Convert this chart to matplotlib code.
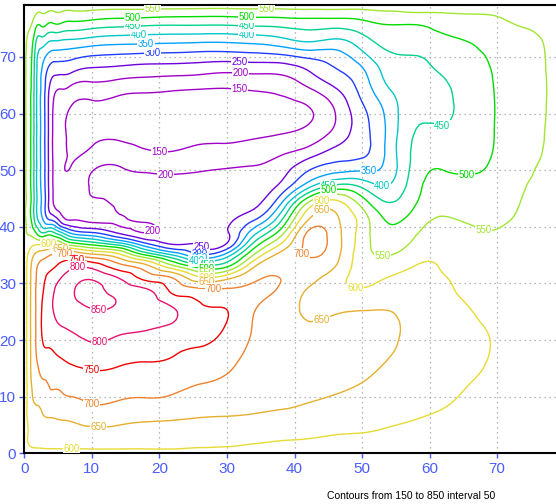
import numpy as np
import matplotlib
matplotlib.use("Agg")
import matplotlib.pyplot as plt
import matplotlib.tri as mtri

# ---- grid node coordinates ----
x_nodes = [0, 0.5, 1, 1.7, 2.5, 3.4, 4.5, 5.7, 7, 10, 14, 18, 22, 26, 30, 34,
           38, 42, 46, 50, 54, 58, 62, 66, 70, 74, 77, 79]
y_nodes = [0, 1, 3, 6, 10, 14, 18, 22, 26, 29, 31, 33, 35, 37, 39, 41, 44,
           47, 50, 53, 56, 60, 64, 67, 70, 73, 75.5, 77.5, 79.2]

# ---- field values, one column per x node (listed bottom to top) ----
z_x00 = [575, 575, 575, 575, 575, 575, 575, 575, 575, 575, 575, 575, 575, 575, 575,
         575, 575, 575, 575, 575, 575, 575, 575, 575, 575, 575, 575, 575, 575]
z_x00_5 = [575, 590, 600, 603, 607, 610, 612, 612, 612, 612, 612, 610, 600, 578, 545,
           532, 530, 530, 530, 530, 530, 530, 531, 532, 534, 545, 556, 567, 575]
z_x01 = [575, 598, 612, 620, 640, 652, 655, 656, 656, 655, 654, 650, 628, 584, 535,
         505, 497, 496, 496, 496, 496, 497, 499, 503, 510, 530, 550, 563, 575]
z_x01_7 = [575, 601, 615, 630, 660, 680, 698, 700, 700, 700, 697, 690, 660, 592, 500,
           430, 416, 415, 415, 415, 415, 415, 416, 418, 425, 457, 508, 550, 575]
z_x02_5 = [575, 602, 618, 638, 665, 705, 735, 748, 745, 738, 730, 720, 675, 590, 450,
           375, 350, 346, 344, 343, 343, 343, 345, 350, 372, 435, 502, 545, 575]
z_x03_4 = [575, 604, 620, 646, 685, 712, 745, 770, 778, 763, 755, 735, 690, 598, 460,
           320, 268, 268, 267, 266, 266, 266, 270, 290, 340, 415, 492, 541, 575]
z_x04_5 = [575, 604, 622, 648, 688, 721, 752, 785, 808, 800, 776, 748, 710, 600, 445,
           295, 193, 187, 185, 183, 182, 184, 205, 255, 320, 405, 490, 540, 575]
z_x05_7 = [575, 605, 625, 652, 695, 728, 762, 797, 826, 822, 805, 768, 708, 560, 390,
           225, 175, 165, 152, 155, 154, 156, 195, 253, 318, 400, 483, 537, 575]
z_x07 = [575, 605, 628, 655, 700, 735, 770, 805, 838, 842, 825, 790, 703, 520, 333,
         205, 180, 167, 153, 146, 143, 144, 180, 245, 312, 397, 477, 533, 575]
z_x10 = [575, 606, 630, 669, 710, 743, 785, 821, 853, 862, 843, 786, 665, 480, 300,
         193, 187, 205, 197, 160, 143, 138, 171, 228, 295, 385, 467, 530, 575]
z_x14 = [575, 606, 630, 665, 705, 738, 773, 812, 845, 832, 798, 722, 617, 420, 240,
         195, 207, 212, 205, 172, 145, 132, 162, 220, 288, 375, 457, 522, 575]
z_x18 = [575, 606, 632, 655, 702, 733, 766, 803, 826, 803, 733, 668, 500, 308, 198,
         205, 215, 213, 195, 157, 138, 128, 155, 212, 282, 372, 450, 520, 575]
z_x22 = [575, 606, 628, 652, 696, 728, 756, 788, 797, 736, 698, 567, 400, 245, 236,
         230, 225, 218, 190, 153, 137, 128, 150, 208, 280, 368, 447, 515, 575]
z_x26 = [575, 600, 625, 647, 683, 712, 742, 772, 755, 706, 608, 478, 310, 245, 240,
         235, 228, 220, 197, 163, 142, 130, 146, 203, 275, 365, 447, 513, 575]
z_x30 = [575, 597, 622, 645, 678, 700, 726, 744, 746, 702, 633, 494, 375, 253, 245,
         240, 232, 222, 203, 167, 142, 128, 145, 195, 273, 365, 447, 513, 575]
z_x34 = [575, 590, 617, 644, 662, 675, 686, 697, 705, 712, 690, 645, 555, 462, 380,
         305, 241, 224, 206, 177, 146, 132, 150, 200, 278, 372, 452, 517, 575]
z_x38 = [575, 585, 610, 640, 658, 668, 672, 675, 680, 693, 699, 690, 668, 600, 525,
         450, 352, 267, 228, 195, 154, 135, 158, 203, 285, 388, 457, 518, 575]
z_x42 = [575, 583, 605, 632, 655, 664, 666, 658, 638, 648, 668, 685, 704, 713, 705,
         655, 565, 390, 297, 225, 172, 143, 188, 240, 308, 410, 465, 522, 575]
z_x46 = [575, 583, 598, 622, 648, 665, 670, 660, 638, 614, 622, 651, 668, 675, 672,
         662, 624, 475, 334, 270, 220, 199, 240, 287, 325, 395, 462, 522, 575]
z_x50 = [575, 582, 596, 615, 638, 656, 663, 659, 642, 602, 588, 577, 572, 575, 578,
         580, 535, 446, 345, 290, 280, 285, 315, 336, 380, 432, 478, 525, 575]
z_x54 = [575, 582, 592, 607, 625, 640, 654, 660, 645, 620, 602, 575, 549, 525, 510,
         496, 455, 406, 372, 368, 366, 368, 395, 420, 440, 470, 497, 537, 575]
z_x58 = [575, 582, 590, 600, 612, 622, 628, 630, 628, 620, 610, 602, 580, 563, 545,
         528, 500, 485, 474, 464, 455, 440, 432, 437, 448, 475, 497, 542, 575]
z_x62 = [575, 581, 588, 595, 605, 612, 615, 614, 612, 608, 603, 596, 588, 578, 567,
         555, 535, 515, 500, 480, 460, 443, 442, 453, 472, 490, 515, 545, 575]
z_x66 = [575, 580, 585, 590, 596, 603, 607, 605, 599, 590, 584, 575, 566, 558, 555,
         547, 530, 510, 497, 485, 478, 473, 473, 478, 490, 503, 525, 549, 575]
z_x70 = [575, 578, 582, 586, 590, 594, 597, 596, 590, 584, 578, 572, 566, 559, 552,
         545, 532, 520, 511, 506, 504, 503, 504, 507, 513, 525, 540, 553, 575]
z_x74 = [575, 577, 579, 581, 583, 585, 586, 585, 583, 580, 577, 574, 570, 566, 561,
         557, 553, 549, 545, 541, 538, 536, 536, 538, 541, 545, 551, 560, 575]
z_x77 = [575, 576, 577, 578, 579, 580, 580, 580, 579, 578, 577, 575, 573, 571, 568,
         566, 562, 558, 555, 552, 550, 548, 547, 548, 549, 552, 559, 567, 575]
z_x79 = [575, 575, 575, 575, 575, 575, 575, 575, 575, 575, 575, 575, 575, 575, 575,
         575, 575, 575, 575, 575, 575, 575, 575, 575, 575, 575, 575, 575, 575]

contour_levels = [150, 200, 250, 300, 350, 400, 450, 500, 550, 600, 650, 700,
                  750, 800, 850]
level_colors = ['#a000c8', '#a000c8', '#6e00dc', '#1e3cff', '#00a0ff', '#00c8c8',
                '#00d28c', '#00dc00', '#a0e632', '#e6dc32', '#e6af2d', '#f0822d',
                '#f00000', '#e8106e', '#e8106e']

tick_values = [0, 10, 20, 30, 40, 50, 60, 70]
caption = "Contours from 150 to 850 interval 50"

# where each level gets its labels (snapped onto the nearest line of that level)
label_spots = {
    150: [(31.9, 64.5), (20.1, 53.1)],
    200: [(31.9, 67.4), (20.8, 48.7), (18.9, 39.3)],
    250: [(31.9, 69.5), (26.0, 35.9)],
    300: [(19.1, 70.8), (26.0, 35.3)],
    350: [(17.9, 72.5), (50.9, 49.4), (26.0, 34.7)],
    400: [(17.1, 74.0), (32.9, 74.0), (53.1, 47.0), (25.5, 33.9)],
    450: [(15.9, 75.6), (32.9, 75.6), (61.9, 57.5), (45.0, 48.0), (27.0, 33.3)],
    500: [(15.9, 77.1), (32.9, 77.1), (65.7, 48.5), (45.0, 46.8), (27.0, 32.6)],
    550: [(18.9, 78.75), (35.9, 78.75), (67.9, 38.5), (52.9, 34.1), (27.0, 31.9)],
    600: [(44.0, 44.4), (49.1, 28.8), (7.0, 0.6), (3.6, 36.8), (27.0, 31.2)],
    650: [(44.0, 43.0), (44.0, 23.5), (11.0, 4.2), (5.3, 35.9), (27.0, 30.3)],
    700: [(41.0, 35.3), (28.0, 28.8), (10.0, 8.8), (6.0, 35.3)],
    750: [(10.0, 14.8), (7.75, 34.3)],
    800: [(11.2, 19.7), (8.0, 33.0)],
    850: [(11.0, 25.3)],
}

columns = [z_x00, z_x00_5, z_x01, z_x01_7, z_x02_5, z_x03_4, z_x04_5, z_x05_7,
           z_x07, z_x10, z_x14, z_x18, z_x22, z_x26, z_x30, z_x34, z_x38, z_x42,
           z_x46, z_x50, z_x54, z_x58, z_x62, z_x66, z_x70, z_x74, z_x77, z_x79]
field = np.array(columns, dtype=float).T          # shape (ny, nx)
nx, ny = len(x_nodes), len(y_nodes)
gx, gy = np.meshgrid(np.array(x_nodes, float), np.array(y_nodes, float))

# two triangles per grid cell
tris = []
for j in range(ny - 1):
    for i in range(nx - 1):
        a = j * nx + i
        b = a + 1
        c = a + nx
        d = c + 1
        tris.append([a, b, d])
        tris.append([a, d, c])
triang = mtri.Triangulation(gx.ravel(), gy.ravel(), np.array(tris))
refiner = mtri.UniformTriRefiner(triang)
tri_fine, z_fine = refiner.refine_field(field.ravel(), subdiv=3)

plt.rcParams['font.family'] = ['Liberation Sans', 'DejaVu Sans']

W, H = 556, 504
fig = plt.figure(figsize=(W / 100, H / 100), dpi=100)
x0_px, y0_px = 24.3, 453.3
px_per_x, px_per_y = 6.755, 5.663
xmax, ymax = 79.0, 79.2
ax = fig.add_axes([x0_px / W, (H - y0_px) / H,
                   xmax * px_per_x / W, ymax * px_per_y / H])
ax.set_xlim(0, xmax)
ax.set_ylim(0, ymax)

ax.grid(True, color='#a0a0a0', linestyle=(0, (1, 3)), linewidth=0.9)
ax.set_axisbelow(True)

cs = ax.tricontour(tri_fine, z_fine, levels=contour_levels,
                   colors=level_colors, linewidths=1.0, zorder=2)

# horizontal labels sitting on their own contour, masking the line beneath
to_px = ax.transData.transform
for lev, spots in label_spots.items():
    k = contour_levels.index(lev)
    segs = [s for s in cs.allsegs[k] if len(s)]
    if not segs:
        continue
    pts = np.vstack(segs)
    pts_px = to_px(pts)
    for sx, sy in spots:
        tx, ty = to_px((sx, sy))
        near = np.argmin((pts_px[:, 0] - tx) ** 2 + (pts_px[:, 1] - ty) ** 2)
        lx, ly = pts[near]
        ax.text(lx, ly, str(lev), color=level_colors[k], fontsize=7,
                ha='center', va='center', zorder=3, clip_on=True,
                bbox=dict(facecolor='white', edgecolor='none', pad=0.4))

blue = '#4a5cff'
ax.set_xticks(tick_values)
ax.set_yticks(tick_values)
ax.tick_params(direction='out', length=3.5, width=1.0, color=blue,
               labelcolor=blue, labelsize=11, pad=2.5)
for side in ('left', 'bottom', 'top'):
    ax.spines[side].set_linewidth(1.5)
    ax.spines[side].set_color('black')
ax.spines['right'].set_visible(False)

fig.text(411.5 / W, 1 - 496 / H, caption, ha='center', va='center',
         fontsize=7.5, color='black')

fig.savefig('out.png', dpi=100)
